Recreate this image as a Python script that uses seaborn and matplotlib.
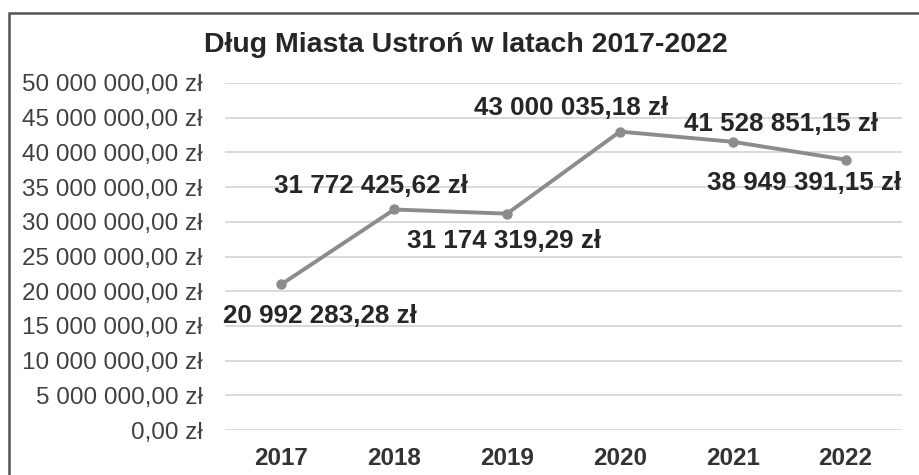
import pandas as pd
import matplotlib.pyplot as plt
import matplotlib.ticker as mticker
from matplotlib.patches import Rectangle
import seaborn as sns

# Data
years = ['2017', '2018', '2019', '2020', '2021', '2022']
debt = [20992283.28, 31772425.62, 31174319.29, 43000035.18, 41528851.15, 38949391.15]
# label offsets (points) from each data point, as placed in the original
label_dx = [28, -17, -2, -35, 35, -30]
label_dy = [-23, 17, -20, 17, 13, -17]

def pln(v, pos=None):
    s = f'{v:,.2f}'.replace(',', ' ').replace('.', ',')
    return s + ' zł'

df = pd.DataFrame({'year': years, 'debt': debt})

sns.set_style('white')
plt.rcParams['font.family'] = ['Liberation Sans', 'DejaVu Sans']

fig = plt.figure(figsize=(9.2, 4.75), dpi=100)
ax = fig.add_axes([225 / 920, 1 - 430 / 475, 677 / 920, 347 / 475])

sns.lineplot(data=df, x='year', y='debt', ax=ax, color='#8c8c8c', linewidth=2.8,
             marker='o', markersize=7.5, markeredgewidth=0, sort=False, zorder=3)

ax.set_xlim(-0.5, 5.5)
ax.set_ylim(0, 50000000)
ax.yaxis.set_major_locator(mticker.MultipleLocator(5000000))
ax.yaxis.set_major_formatter(mticker.FuncFormatter(pln))
ax.grid(axis='y', color='#d9d9d9', linewidth=1.4)
ax.set_axisbelow(True)
for sp in ax.spines.values():
    sp.set_visible(False)
ax.tick_params(axis='y', length=0, pad=16, labelsize=17.5, labelcolor='#404040')
ax.tick_params(axis='x', length=0, pad=12, labelsize=17.5, labelcolor='#333333')
for lbl in ax.get_xticklabels():
    lbl.set_fontweight('bold')
ax.set_xlabel('')
ax.set_ylabel('')

for i, v in enumerate(debt):
    ax.annotate(pln(v), (i, v), xytext=(label_dx[i], label_dy[i]),
                textcoords='offset points', ha='center', va='center',
                fontsize=18.7, fontweight='bold', color='#262626', zorder=4)

fig.text(466 / 920, 1 - 45 / 475, 'Dług Miasta Ustroń w latach 2017-2022',
         ha='center', va='center', fontsize=20.5, fontweight='bold', color='#262626')

fig.patches.append(Rectangle((9 / 920, -0.05), 1.2, 1 - 13 / 475 + 0.05,
                             transform=fig.transFigure, fill=False,
                             edgecolor='#555555', linewidth=1.8))

fig.savefig('out.png', dpi=100, facecolor='white')
